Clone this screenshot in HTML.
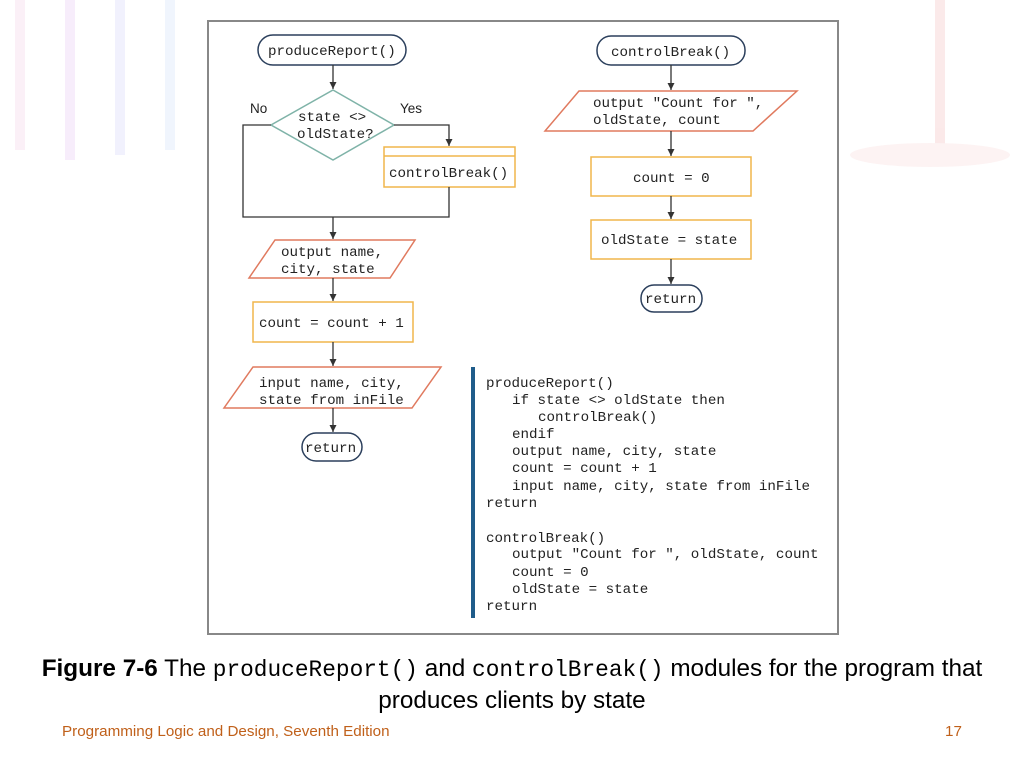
<!DOCTYPE html>
<html><head><meta charset="utf-8"><style>
body{margin:0;width:1024px;height:768px;background:#fff;overflow:hidden;position:relative;font-family:"Liberation Sans",sans-serif}
svg{position:absolute;left:0;top:0}
.m{font-family:"Liberation Mono",monospace;font-size:14.2px;fill:#222}
.cap{position:absolute;width:1024px;text-align:center;font-size:24.3px;color:#000;line-height:32px;white-space:nowrap}
.mono{font-family:"Liberation Mono",monospace;font-size:22.8px}
</style></head><body>
<svg width="1024" height="768" viewBox="0 0 1024 768">
<defs><marker id="a" markerWidth="8" markerHeight="8" refX="7" refY="3.5" orient="auto" markerUnits="userSpaceOnUse"><path d="M0,0 L7,3.5 L0,7 Z" fill="#333"/></marker></defs>
<g opacity="0.12" stroke-width="10" fill="none">
<path d="M20 0 V150" stroke="#e088c0"/><path d="M70 0 V160" stroke="#c070e0"/><path d="M120 0 V155" stroke="#9090f0"/><path d="M170 0 V150" stroke="#80b0f0"/>
<path d="M940 0 V150" stroke="#e05050"/>
<ellipse cx="930" cy="155" rx="80" ry="12" fill="#f0a0a0" stroke="none"/>
</g>
<rect x="208" y="21" width="630" height="613" fill="#fff" stroke="#888" stroke-width="2"/>
<g fill="none" stroke-width="1.5">
<rect x="258" y="35" width="148" height="30" rx="15" stroke="#2b3f5c"/>
<polygon points="333,90 394,125 333,160 271,125" stroke="#7fb3a8"/>
<rect x="384" y="147" width="131" height="40" stroke="#f0b64b"/><line x1="384" y1="156" x2="515" y2="156" stroke="#f0b64b"/>
<polygon points="275,240 415,240 390,278 249,278" stroke="#e07a5f"/>
<rect x="253" y="302" width="160" height="40" stroke="#f0b64b"/>
<polygon points="253,367 441,367 412,408 224,408" stroke="#e07a5f"/>
<rect x="302" y="433" width="60" height="28" rx="14" stroke="#2b3f5c"/>
<rect x="597" y="36" width="148" height="29" rx="14" stroke="#2b3f5c"/>
<polygon points="579,91 797,91 753,131 545,131" stroke="#e07a5f"/>
<rect x="591" y="157" width="160" height="39" stroke="#f0b64b"/>
<rect x="591" y="220" width="160" height="39" stroke="#f0b64b"/>
<rect x="641" y="285" width="61" height="27" rx="13" stroke="#2b3f5c"/>
</g>
<g stroke="#333" stroke-width="1.3" fill="none">
<line x1="333" y1="65" x2="333" y2="89" marker-end="url(#a)"/>
<polyline points="271,125 243,125 243,217 449,217 449,187"/>
<polyline points="394,125 449,125 449,146" marker-end="url(#a)"/>
<line x1="333" y1="217" x2="333" y2="239" marker-end="url(#a)"/>
<line x1="333" y1="278" x2="333" y2="301" marker-end="url(#a)"/>
<line x1="333" y1="342" x2="333" y2="366" marker-end="url(#a)"/>
<line x1="333" y1="408" x2="333" y2="432" marker-end="url(#a)"/>
<line x1="671" y1="65" x2="671" y2="90" marker-end="url(#a)"/>
<line x1="671" y1="131" x2="671" y2="156" marker-end="url(#a)"/>
<line x1="671" y1="196" x2="671" y2="219" marker-end="url(#a)"/>
<line x1="671" y1="259" x2="671" y2="284" marker-end="url(#a)"/>
</g>
<rect x="471" y="367" width="4" height="251" fill="#1f5c8a"/>
<g class="m">
<text x="268" y="55">produceReport()</text>
<text x="250" y="113" font-family="Liberation Sans" font-size="13.5">No</text>
<text x="400" y="113" font-family="Liberation Sans" font-size="13.5">Yes</text>
<text x="298" y="121">state &lt;&gt;</text>
<text x="297" y="138">oldState?</text>
<text x="389" y="177">controlBreak()</text>
<text x="281" y="256">output name,</text>
<text x="281" y="273">city, state</text>
<text x="259" y="327">count = count + 1</text>
<text x="259" y="387">input name, city,</text>
<text x="259" y="404">state from inFile</text>
<text x="305" y="452">return</text>
<text x="611" y="56">controlBreak()</text>
<text x="593" y="107">output "Count for ",</text>
<text x="593" y="124">oldState, count</text>
<text x="633" y="182">count = 0</text>
<text x="601" y="244">oldState = state</text>
<text x="645" y="303">return</text>
<text x="486" y="387">produceReport()</text>
<text x="512" y="404">if state &lt;&gt; oldState then</text>
<text x="538" y="421">controlBreak()</text>
<text x="512" y="438">endif</text>
<text x="512" y="455">output name, city, state</text>
<text x="512" y="472">count = count + 1</text>
<text x="512" y="490">input name, city, state from inFile</text>
<text x="486" y="507">return</text>
<text x="486" y="542">controlBreak()</text>
<text x="512" y="558">output "Count for ", oldState, count</text>
<text x="512" y="576">count = 0</text>
<text x="512" y="593">oldState = state</text>
<text x="486" y="610">return</text>
</g>
</svg>
<div class="cap" style="top:653px"><b>Figure 7-6</b> The <span class="mono">produceReport()</span> and <span class="mono">controlBreak()</span> modules for the program that</div>
<div class="cap" style="top:685px">produces clients by state</div>
<div style="position:absolute;left:62px;top:723px;font-size:15.2px;color:#c0601a">Programming Logic and Design, Seventh Edition</div>
<div style="position:absolute;left:945px;top:723px;font-size:15.2px;color:#c0601a">17</div>
</body></html>
